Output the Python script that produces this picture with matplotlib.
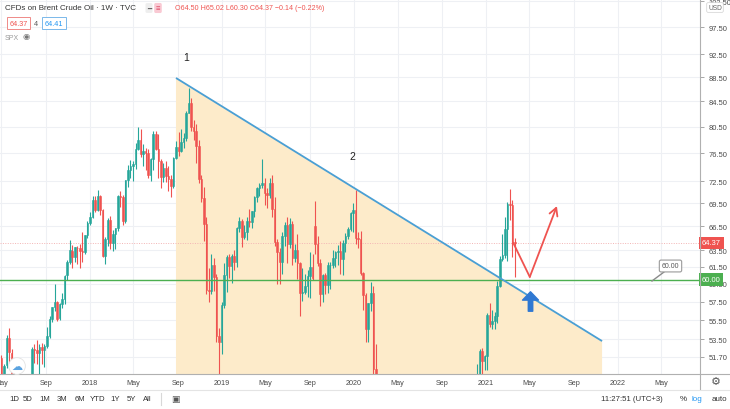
import matplotlib
matplotlib.use("Agg")
import matplotlib.pyplot as plt
import matplotlib.dates as mdates
import matplotlib.transforms as mtrans
from matplotlib.patches import Polygon
from matplotlib.lines import Line2D
import numpy as np
import pandas as pd

plt.rcParams['font.family'] = ['Liberation Sans', 'DejaVu Sans']

# ---------------- data: weekly OHLC, CFDs on Brent Crude Oil (TVC) ----------------
week_start = '2017-05-01'
opens = [
    # 2017
    51.6, 49.2, 50.9, 53.6, 52.1, 49.9, 48.2, 47.3, 45.6, 48.0, 46.7, 48.9, 48.1, 52.5, 52.4, 52.1, 52.7, 52.4,
    52.8, 53.8, 55.6, 56.9, 57.5, 55.7, 57.2, 57.8, 60.5, 62.1, 63.4, 62.7, 63.8, 63.7, 63.4, 63.2, 65.3,
    # 2018
    66.9, 67.6, 69.9, 68.6, 70.5, 68.6, 62.8, 64.8, 67.3, 64.4, 65.5, 66.2, 70.5, 70.3, 67.1, 72.6, 74.1, 74.6,
    74.9, 77.1, 78.5, 76.4, 76.8, 76.5, 73.4, 75.6, 79.4, 77.1, 75.3, 73.1, 74.3, 73.2, 72.8, 71.8, 75.8, 77.4,
    76.8, 78.1, 78.8, 82.7, 84.2, 80.4, 79.8, 77.6, 72.8, 70.2, 66.8, 58.8, 58.7, 61.7, 60.3, 53.8,
    # 2019
    53.2, 57.1, 60.5, 62.7, 61.6, 62.8, 62.1, 66.3, 67.1, 65.1, 65.7, 67.2, 67.0, 68.4, 70.3, 71.6, 72.0, 72.2,
    70.9, 70.6, 72.2, 68.7, 64.5, 63.3, 62.0, 65.2, 66.6, 64.2, 66.7, 62.5, 63.5, 61.9, 58.5, 58.6, 59.3, 60.4,
    61.5, 66.5, 64.3, 61.9, 58.4, 60.5, 59.4, 61.7, 61.7, 62.5, 63.3, 63.4, 62.4, 64.4, 65.2, 66.1,
    # 2020
    68.2, 68.6, 65.0, 64.9, 60.7, 58.2, 54.5, 57.3, 58.5, 50.5, 42.0, 33.9, 27.0, 24.9, 34.1, 31.5, 28.1, 21.4,
    26.4, 31.0, 32.5, 35.1, 35.3, 42.3, 38.7, 42.2, 41.0, 42.8, 42.2, 43.1, 43.3, 43.3, 44.4, 44.8, 44.4, 45.8,
    42.7, 39.8, 43.2, 41.9, 39.3, 42.9, 42.9, 41.8, 37.5, 39.5, 42.8, 45.0, 48.2, 49.3, 50.0, 52.3, 51.3,
    # 2021
    51.8, 56.0, 55.1, 55.4, 55.9, 59.3, 62.4, 62.9, 66.1, 69.4, 69.2, 64.50,
]
highs = [
    51.9, 51.0, 53.9, 54.7, 52.5, 50.3, 48.7, 47.5, 48.3, 50.0, 49.0, 49.8, 52.7, 53.0, 53.4, 53.0, 53.1, 53.0,
    54.8, 55.9, 56.9, 59.5, 57.6, 57.3, 58.5, 60.5, 62.3, 64.7, 64.1, 63.9, 64.0, 64.2, 65.8, 65.3, 67.1,
    68.3, 70.4, 70.4, 71.3, 70.6, 68.7, 65.1, 67.5, 67.8, 66.0, 66.3, 70.6, 71.2, 70.6, 72.7, 74.8, 75.5, 75.4,
    78.0, 80.5, 80.2, 77.8, 77.2, 77.1, 75.8, 79.8, 79.8, 79.4, 75.6, 75.1, 75.3, 74.7, 73.3, 76.0, 78.3, 79.7,
    80.1, 79.6, 83.0, 86.7, 85.0, 81.5, 80.9, 78.4, 73.4, 71.7, 67.6, 61.3, 63.0, 62.5, 60.6, 54.7,
    57.5, 61.9, 62.9, 63.0, 63.0, 63.5, 66.4, 67.7, 67.4, 66.6, 67.6, 68.7, 68.5, 70.5, 71.7, 72.2, 75.6, 73.0,
    71.5, 73.0, 73.3, 70.3, 64.9, 63.8, 65.8, 67.0, 67.6, 67.5, 67.2, 64.3, 65.5, 62.0, 61.3, 60.6, 61.1, 63.3,
    63.0, 69.8, 65.2, 62.4, 60.6, 60.7, 62.1, 62.0, 63.5, 63.4, 64.1, 64.6, 64.7, 65.6, 66.4, 68.3,
    69.5, 71.3, 65.7, 65.9, 60.9, 58.5, 57.4, 59.7, 59.3, 53.0, 42.5, 34.0, 31.0, 35.0, 36.3, 32.5, 28.5, 27.0,
    31.6, 32.7, 36.4, 36.4, 42.5, 43.0, 42.8, 43.3, 43.2, 43.6, 43.8, 44.4, 44.4, 45.9, 45.4, 46.0, 46.2, 46.0,
    42.9, 43.7, 43.4, 42.4, 43.2, 43.6, 43.2, 42.0, 41.4, 44.2, 45.1, 48.6, 49.5, 51.0, 52.5, 52.6, 51.9,
    56.3, 57.4, 56.6, 56.4, 59.8, 62.8, 65.5, 67.7, 69.7, 71.4, 69.9, 65.02,
]
lows = [
    46.6, 48.5, 50.6, 51.0, 49.6, 47.4, 46.6, 44.4, 45.4, 46.6, 46.0, 47.8, 48.0, 51.1, 51.0, 49.7, 51.0, 50.7,
    52.6, 53.6, 55.3, 56.5, 55.4, 55.5, 56.8, 57.2, 60.0, 61.8, 61.4, 62.0, 61.8, 61.3, 62.1, 63.0, 65.0,
    66.6, 67.5, 68.3, 68.4, 67.9, 62.6, 61.8, 64.0, 63.6, 63.4, 63.6, 65.9, 69.0, 66.6, 66.9, 71.7, 73.0, 72.5,
    74.2, 77.0, 76.0, 74.6, 74.0, 72.9, 72.5, 74.0, 76.9, 73.0, 71.6, 72.4, 72.4, 71.2, 70.3, 71.5, 75.6, 76.1,
    76.6, 77.3, 78.3, 82.6, 79.8, 78.4, 75.1, 72.2, 69.6, 64.6, 58.4, 57.5, 58.4, 58.7, 53.2, 50.0,
    52.0, 56.8, 58.6, 60.2, 59.6, 61.1, 61.5, 65.7, 63.9, 64.9, 64.7, 66.4, 66.3, 67.7, 69.6, 70.5, 71.5, 69.3,
    68.9, 70.2, 67.7, 64.0, 59.5, 59.5, 60.6, 64.0, 61.9, 63.8, 61.7, 62.0, 60.1, 55.9, 57.6, 58.3, 58.0, 57.9,
    60.0, 63.0, 61.6, 57.0, 57.5, 58.3, 58.5, 58.9, 61.3, 61.5, 61.7, 60.6, 60.5, 63.2, 64.8, 65.9,
    65.7, 64.3, 63.8, 60.5, 56.6, 53.2, 53.2, 56.5, 49.6, 45.0, 31.0, 24.5, 24.5, 21.7, 30.9, 27.0, 15.9, 19.0,
    26.2, 28.6, 32.3, 33.0, 35.0, 37.6, 38.0, 39.9, 40.7, 42.1, 42.0, 42.5, 42.2, 43.0, 44.1, 44.3, 44.2, 42.0,
    39.2, 39.2, 41.0, 38.9, 39.1, 41.8, 41.1, 36.6, 37.0, 39.3, 42.1, 44.8, 46.9, 48.1, 49.8, 49.6, 50.4,
    50.4, 54.8, 54.5, 54.6, 55.2, 59.1, 62.2, 62.5, 62.2, 67.3, 62.6, 60.30,
]
closes = [
    49.1, 50.8, 53.6, 52.2, 50.0, 48.2, 47.4, 45.5, 47.9, 46.7, 48.9, 48.1, 52.5, 52.4, 52.1, 52.7, 52.4, 52.8,
    53.8, 55.6, 56.9, 57.5, 55.6, 57.2, 57.8, 60.4, 62.1, 63.5, 62.7, 63.9, 63.7, 63.4, 63.2, 65.3, 66.9,
    67.6, 69.9, 68.6, 70.5, 68.6, 62.8, 64.8, 67.3, 64.4, 65.5, 66.2, 70.5, 70.3, 67.1, 72.6, 74.1, 74.6, 74.9,
    77.1, 78.5, 76.4, 76.8, 76.5, 73.4, 75.6, 79.4, 77.1, 75.3, 73.1, 74.3, 73.2, 72.8, 71.8, 75.8, 77.4, 76.8,
    78.1, 78.8, 82.7, 84.2, 80.4, 79.8, 77.6, 72.8, 70.2, 66.8, 58.8, 58.7, 61.7, 60.3, 53.8, 53.2,
    57.1, 60.5, 62.7, 61.6, 62.8, 62.1, 66.3, 67.1, 65.1, 65.7, 67.2, 67.0, 68.4, 70.3, 71.6, 72.0, 72.2, 70.9,
    70.6, 72.2, 68.7, 64.5, 63.3, 62.0, 65.2, 66.6, 64.2, 66.7, 62.5, 63.5, 61.9, 58.5, 58.6, 59.3, 60.4, 61.5,
    60.2, 64.3, 61.9, 58.4, 60.5, 59.4, 61.7, 61.7, 62.5, 63.3, 63.4, 62.4, 64.4, 65.2, 66.1, 68.2,
    68.6, 65.0, 64.9, 60.7, 58.2, 54.5, 57.3, 58.5, 50.5, 45.3, 33.9, 27.0, 24.9, 34.1, 31.5, 28.1, 21.4, 26.4,
    31.0, 32.5, 35.1, 35.3, 42.3, 38.7, 42.2, 41.0, 42.8, 42.2, 43.1, 43.3, 43.3, 44.4, 44.8, 44.4, 45.8, 42.7,
    39.8, 43.2, 41.9, 39.3, 42.9, 42.9, 41.8, 37.5, 39.5, 42.8, 45.0, 48.2, 49.3, 50.0, 52.3, 51.3, 51.8,
    56.0, 55.1, 55.4, 55.9, 59.3, 62.4, 62.9, 66.1, 69.4, 69.2, 64.5, 64.37,
]

# axis ticks
price_ticks = [51.70, 53.50, 55.50, 57.50, 59.50, 61.50, 63.50, 66.50, 69.50, 72.50,
               76.50, 80.50, 84.50, 88.50, 92.50, 97.50, 102.50]
month_ticks = ['2017-05-01', '2017-09-01', '2018-01-01', '2018-05-01', '2018-09-01', '2019-01-01',
               '2019-05-01', '2019-09-01', '2020-01-01', '2020-05-01', '2020-09-01', '2021-01-01',
               '2021-05-01', '2021-09-01', '2022-01-01', '2022-05-01']
month_labels = ['May', 'Sep', '2018', 'May', 'Sep', '2019', 'May', 'Sep', '2020', 'May', 'Sep',
                '2021', 'May', 'Sep', '2022', 'May']

last_price = 64.37
level_price = 60.00

# drawings (date, price)
trend_pts = [('2018-08-27', 88.4), ('2021-11-18', 53.3)]
forecast_pts = [('2021-03-17', 64.4), ('2021-05-02', 60.3), ('2021-07-16', 69.1)]
up_arrow = ('2021-05-04', 56.45, 58.6)
wave_labels = [('1', '2018-09-23', 92.0), ('2', '2019-12-29', 76.1)]

# ---------------- figure ----------------
W, H = 730, 410
fig = plt.figure(figsize=(W / 100, H / 100), dpi=100)
fig.patch.set_facecolor('white')
ax = fig.add_axes([0, 35 / H, 700 / W, 375 / H])
ax.set_facecolor('white')

GREEN = '#26a69a'
RED = '#ef5350'
TXT = '#4a4a4a'

n = len(closes)
dates = pd.date_range(week_start, periods=n, freq='W-MON')
d = mdates.date2num(dates)
o = np.array(opens); h = np.array(highs); lo = np.array(lows); c = np.array(closes)
col = np.where(c >= o, GREEN, RED)

ref = mdates.date2num(pd.Timestamp('2018-01-01'))
ax.set_xlim(ref - 249, ref + 1688)
ax.set_yscale('log')
ax.set_ylim(50.03, 102.9)

# grid
ax.yaxis.set_major_locator(matplotlib.ticker.FixedLocator(price_ticks))
ax.yaxis.set_minor_locator(matplotlib.ticker.NullLocator())
ax.yaxis.set_major_formatter(matplotlib.ticker.FuncFormatter(lambda v, p: f'{v:.2f}'))
mt = mdates.date2num(pd.to_datetime(month_ticks))
ax.set_xticks(mt)
ax.set_xticklabels(month_labels)
ax.xaxis.set_minor_locator(matplotlib.ticker.NullLocator())
ax.grid(True, color='#eef0f4', lw=0.8, zorder=0)
ax.set_axisbelow(True)

ax.yaxis.tick_right()
ax.tick_params(axis='y', length=3, width=0.6, color='#999999', pad=3, labelsize=5.4, labelcolor=TXT)
ax.tick_params(axis='x', length=0, pad=3.5, labelsize=5.2, labelcolor=TXT)
for s in ['top', 'left', 'bottom', 'right']:
    ax.spines[s].set_visible(False)

# triangle fill + trend line
t0 = mdates.date2num(pd.Timestamp(trend_pts[0][0])); p0 = trend_pts[0][1]
t1 = mdates.date2num(pd.Timestamp(trend_pts[1][0])); p1 = trend_pts[1][1]
ax.add_patch(Polygon([(t0, p0), (t1, p1), (t1, 30), (t0, 30)], closed=True,
                     fc='#fdebca', ec='none', zorder=1))
ax.plot([t0, t1], [p0, p1], color='#4a9fd4', lw=1.3, zorder=6, solid_capstyle='butt')

# horizontal levels
ax.axhline(level_price, color='#4caf50', lw=1.0, zorder=5)
ax.axhline(last_price, color='#f3b4b4', lw=0.7, ls=(0, (1, 1.5)), zorder=2)

# candles
ax.vlines(d, lo, h, colors=col, lw=0.8, zorder=3)
ax.bar(d, np.abs(c - o), bottom=np.minimum(o, c), width=4.3, color=col,
       edgecolor=col, linewidth=0.4, zorder=4)

# wave labels
for lab, dt, pr in wave_labels:
    ax.text(mdates.date2num(pd.Timestamp(dt)), pr, lab, fontsize=7.5, color='#222222',
            ha='center', va='center', zorder=7)

# forecast path (red)
fx = [mdates.date2num(pd.Timestamp(p[0])) for p in forecast_pts]
fy = [p[1] for p in forecast_pts]
ax.plot(fx[:2], fy[:2], color=RED, lw=1.3, zorder=7, solid_capstyle='round')
ax.annotate('', xy=(fx[2], fy[2]), xytext=(fx[1], fy[1]),
            arrowprops=dict(arrowstyle='->,head_length=0.55,head_width=0.3', color=RED, lw=1.3,
                            shrinkA=0, shrinkB=0), zorder=7)

# blue up arrow
ua = mdates.date2num(pd.Timestamp(up_arrow[0]))
ax.annotate('', xy=(ua, up_arrow[2]), xytext=(ua, up_arrow[1]),
            arrowprops=dict(arrowstyle='simple,head_length=0.6,head_width=1.15,tail_width=0.32',
                            color='#2f78d2', shrinkA=0, shrinkB=0), zorder=8)

# right axis price labels
bt = mtrans.blended_transform_factory(ax.transAxes, ax.transData)
ax.text(1.003, last_price, f'{last_price:.2f}', transform=bt, fontsize=5.4, color='white',
        ha='left', va='center', clip_on=False, zorder=10,
        bbox=dict(boxstyle='square,pad=0.35', fc=RED, ec='none'))
ax.text(1.003, level_price, f'{level_price:.2f}', transform=bt, fontsize=5.4, color='white',
        ha='left', va='center', clip_on=False, zorder=10,
        bbox=dict(boxstyle='square,pad=0.35', fc='#4caf50', ec='none'))


def fp(x, y):
    return (x / W, 1 - y / H)


# frame lines
fig.add_artist(Line2D([700 / W, 700 / W], [1, 1 - 390 / H], color='#b0b0b0', lw=0.8))
fig.add_artist(Line2D([0, 1], [1 - 375 / H, 1 - 375 / H], color='#b0b0b0', lw=0.8))
fig.add_artist(Line2D([0, 1], [1 - 390.5 / H, 1 - 390.5 / H], color='#e4e4e4', lw=0.8))

# 60.00 label on chart
fig.add_artist(Line2D([652 / W, 664 / W], [1 - 282 / H, 1 - 273 / H], color='#8a8a8a', lw=1.0))
fig.text(*fp(670.5, 267), '60.00', fontsize=5.0, color='#555555', ha='center', va='center',
         bbox=dict(boxstyle='round,pad=0.35,rounding_size=0.25', fc='white', ec='#9a9a9a', lw=0.8))

# header
fig.text(*fp(5, 9), 'CFDs on Brent Crude Oil · 1W · TVC', fontsize=5.75, color='#333333', va='center')
fig.text(*fp(149, 9), '━', fontsize=5, color='#6a6a6a', va='center', ha='center',
         bbox=dict(boxstyle='round,pad=0.2', fc='#eeeeee', ec='none'))
fig.text(*fp(158, 9), '≡', fontsize=5.5, color='#e0506a', va='center', ha='center',
         bbox=dict(boxstyle='round,pad=0.2', fc='#f9c9d3', ec='none'))
fig.text(*fp(175, 9), 'O64.50 H65.02 L60.30 C64.37 −0.14 (−0.22%)', fontsize=5.1,
         color=RED, va='center')
fig.text(*fp(18.5, 24), '64.37', fontsize=5.2, color=RED, ha='center', va='center',
         bbox=dict(boxstyle='square,pad=0.35', fc='white', ec='#ef8a88', lw=0.7))
fig.text(*fp(36, 24), '4', fontsize=5.2, color='#555555', ha='center', va='center')
fig.text(*fp(54, 24), '64.41', fontsize=5.2, color='#2196f3', ha='center', va='center',
         bbox=dict(boxstyle='square,pad=0.35', fc='white', ec='#7ab8ea', lw=0.7))
fig.text(*fp(5, 38), 'SPX', fontsize=5.0, color='#9a9a9a', va='center')
fig.text(*fp(26, 38), '◉', fontsize=6, color='#777777', va='center', ha='center')

# cloud badge
fig.text(*fp(17, 367), '☁', fontsize=8, color='#5ba3e0', ha='center', va='center',
         bbox=dict(boxstyle='circle,pad=0.25', fc='white', ec='#e2e2e2', lw=0.6))

# currency on price scale
fig.text(*fp(715, 8.5), 'USD', fontsize=4.8, color='#666666', ha='center', va='center',
         bbox=dict(boxstyle='round,pad=0.2', fc='white', ec='#d0d0d0', lw=0.5))

# gear
fig.text(*fp(716, 382), '⚙', fontsize=8, color='#555555', ha='center', va='center')

# bottom toolbar
ranges = ['1D', '5D', '1M', '3M', '6M', 'YTD', '1Y', '5Y', 'All']
range_x = [14, 28, 45, 62, 80, 98, 115, 131, 147]
for lab, x in zip(ranges, range_x):
    fig.text(*fp(x, 400), lab, fontsize=5.6, color='#333333', ha='center', va='center')
fig.add_artist(Line2D([161 / W, 161 / W], [1 - 394 / H, 1 - 406 / H], color='#d8d8d8', lw=0.8))
fig.text(*fp(175, 400), '▣', fontsize=6.5, color='#555555', ha='center', va='center')
fig.text(*fp(632, 400), '11:27:51 (UTC+3)', fontsize=5.6, color='#333333', ha='center', va='center')
fig.text(*fp(683, 400), '%', fontsize=5.8, color='#333333', ha='center', va='center')
fig.text(*fp(697, 400), 'log', fontsize=5.8, color='#2196f3', ha='center', va='center')
fig.text(*fp(719, 400), 'auto', fontsize=5.8, color='#333333', ha='center', va='center')

fig.savefig('out.png', dpi=100, facecolor='white')
